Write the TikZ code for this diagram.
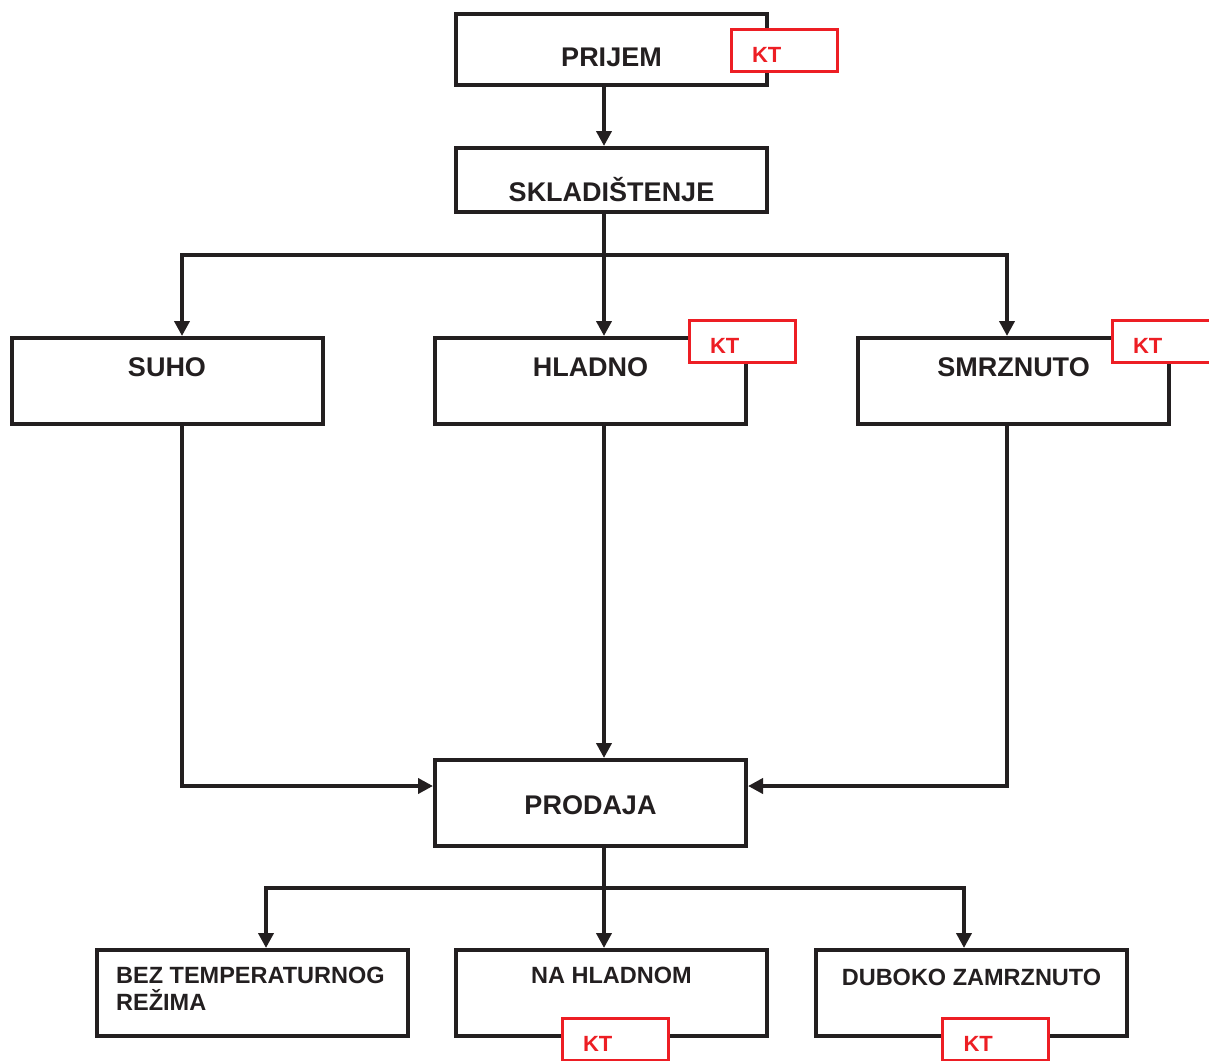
\documentclass[tikz,border=0pt]{standalone}
\usepackage{fontspec}
\setmainfont{Liberation Sans}
\usepackage{tikz}
\usetikzlibrary{arrows.meta,positioning,calc}
\definecolor{ktred}{RGB}{237,30,36}
\definecolor{ink}{RGB}{35,31,32}

\begin{document}
\begin{tikzpicture}[x=1pt,y=-1pt,>={Triangle[length=15pt,width=15pt]},
    box/.style={draw=ink,line width=4pt,minimum width=311pt,minimum height=86pt,inner sep=0pt},
    lbl/.style={text=ink,inner sep=0pt,font=\bfseries\fontsize{27}{32}\selectfont},
    sublbl/.style={text=ink,inner sep=0pt,align=left,font=\bfseries\fontsize{23.5}{27}\selectfont},
    kt/.style={draw=ktred,fill=white,line width=3pt,minimum width=106pt,minimum height=42pt,
        inner xsep=21pt,text width=64pt,align=left,text height=24pt,text depth=0pt,
        text=ktred,font=\bfseries\fontsize{22}{26}\selectfont},
    flow/.style={draw=ink,line width=4pt,->},
    line/.style={draw=ink,line width=4pt}]
    \useasboundingbox (0,0) rectangle (1209,1060);

    % main boxes
    \node [box,minimum height=71pt] (prijem) at (611.5,49.5) {};
    \node [box,minimum height=64pt] (sklad) at (611.5,180) {};
    \node [box] (suho) at (167,381) {};
    \node [box] (hladno) at (590.5,381) {};
    \node [box] (smrz) at (1013.5,381) {};
    \node [box] (prodaja) at (590.5,803) {};
    \node [box] (bez) at (252.5,993) {};
    \node [box] (nahl) at (611.5,993) {};
    \node [box] (dubok) at (971.5,993) {};

    % labels
    \node [lbl] (prijemt) at ([yshift=-7.5]prijem.center) {PRIJEM};
    \node [lbl] (skladt) at ([yshift=-10]sklad.center) {SKLADIŠTENJE};
    \node [lbl] (suhot) at ([yshift=14]suho.center) {SUHO};
    \node [lbl] (hladnot) at ([yshift=14]hladno.center) {HLADNO};
    \node [lbl] (smrzt) at ([yshift=14]smrz.center) {SMRZNUTO};
    \node [lbl] (prodajat) at ([yshift=-2]prodaja.center) {PRODAJA};
    \node [sublbl,anchor=west] (bezt) at ([xshift=21,yshift=4.5]bez.west) {BEZ TEMPERATURNOG\\REŽIMA};
    \node [sublbl] (nahlt) at ([yshift=18]nahl.center) {NA HLADNOM};
    \node [sublbl] (dubokt) at ([yshift=16]dubok.center) {DUBOKO ZAMRZNUTO};

    % junctions
    \coordinate (split) at (604,255);
    \coordinate (fork) at (604,888);

    \draw[flow] ([xshift=-7.5]prijem.south) -- ([xshift=-7.5]sklad.north);
    \draw[line] ([xshift=-7.5]sklad.south) -- (split);
    \draw[flow] (split) -- (split |- hladno.north);
    \draw[flow] (split) -| ([xshift=15]suho.north);
    \draw[flow] (split) -| ([xshift=-6.5]smrz.north);

    \draw[flow] ([xshift=15]suho.south) |- ([yshift=17]prodaja.west);
    \draw[flow] ([xshift=13.5]hladno.south) -- ([xshift=13.5]prodaja.north);
    \draw[flow] ([xshift=-6.5]smrz.south) |- ([yshift=17]prodaja.east);

    \draw[line] ([xshift=13.5]prodaja.south) -- (fork);
    \draw[flow] (fork) -- (fork |- nahl.north);
    \draw[flow] (fork) -| ([xshift=13.5]bez.north);
    \draw[flow] (fork) -| ([xshift=-7.5]dubok.north);

    % control points
    \node [kt] (kt1) at (784,50) {KT};
    \node [kt] (kt2) at (742,341) {KT};
    \node [kt] (kt3) at (1165,341) {KT};
    \node [kt] (kt4) at (615,1039) {KT};
    \node [kt] (kt5) at (995.5,1039) {KT};
\end{tikzpicture}
\end{document}
